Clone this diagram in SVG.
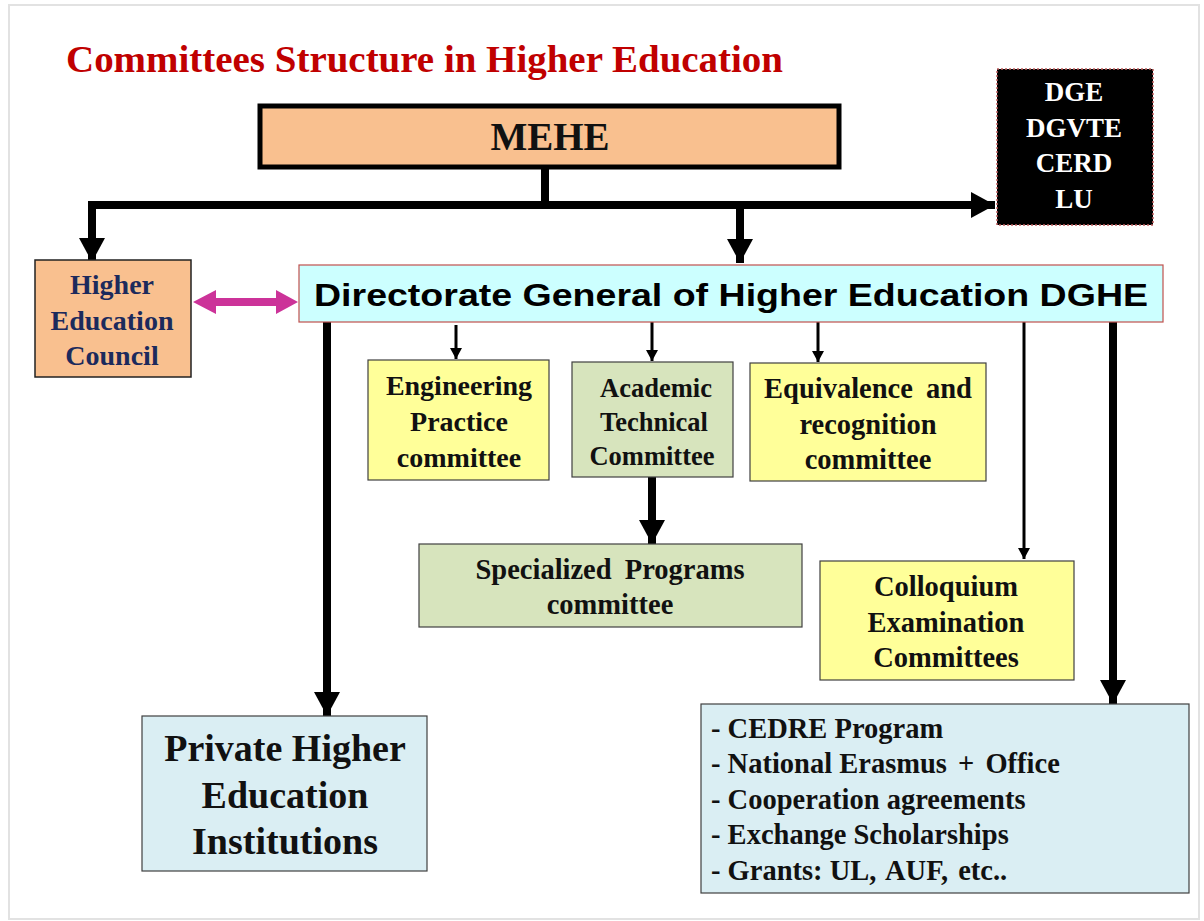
<svg xmlns="http://www.w3.org/2000/svg" width="1204" height="921" viewBox="0 0 1204 921">
<style>
.serif{font-family:"Liberation Serif","Times New Roman",serif;font-weight:bold;}
.sans{font-family:"Liberation Sans",Arial,sans-serif;font-weight:bold;}
.box{stroke:#404040;stroke-width:1.2;}
.yellow{fill:#FFFF99;}
.green{fill:#D7E4BD;}
.blue{fill:#DAEEF3;}
.peach{fill:#F9C08F;}
.thick{stroke:#000;stroke-width:8;fill:none;}
.thin{stroke:#000;stroke-width:3;fill:none;}
.t{text-anchor:middle;fill:#111;}
</style>
<defs>
<marker id="bigHead" markerUnits="userSpaceOnUse" markerWidth="24" markerHeight="26" viewBox="0 0 24 26" refX="24" refY="13" orient="auto">
<path d="M0,0 L24,13 L0,26 Z" fill="#000"/>
</marker>
<marker id="smallHead" markerUnits="userSpaceOnUse" markerWidth="11" markerHeight="12" viewBox="0 0 11 12" refX="11" refY="6" orient="auto">
<path d="M0,0 L11,6 L0,12 Z" fill="#000"/>
</marker>
</defs>
<rect x="0" y="0" width="1204" height="921" fill="#ffffff"/>
<rect x="9" y="5" width="1190" height="914" fill="#ffffff" stroke="#E2E2E2" stroke-width="2"/>

<text class="serif" x="66" y="72" font-size="37" fill="#C00000" textLength="717" lengthAdjust="spacingAndGlyphs">Committees Structure in Higher Education</text>

<g id="connectors">
<path class="thick" d="M545,168 V205"/>
<path class="thick" d="M88,205 H995" marker-end="url(#bigHead)"/>
<path class="thick" d="M92,201 V262" marker-end="url(#bigHead)"/>
<path class="thick" d="M740,205 V263" marker-end="url(#bigHead)"/>
<path d="M193,302 L216,290 L216,298 L276,298 L276,290 L298,302 L276,314 L276,306 L216,306 L216,314 Z" fill="#CC3399"/>
<path class="thick" d="M327,322 V716" marker-end="url(#bigHead)"/>
<path class="thin" d="M456,325 V359" marker-end="url(#smallHead)"/>
<path class="thin" d="M652,322 V361" marker-end="url(#smallHead)"/>
<path class="thin" d="M818,322 V362" marker-end="url(#smallHead)"/>
<path class="thin" d="M1024,322 V559" marker-end="url(#smallHead)"/>
<path class="thick" d="M1113,322 V704" marker-end="url(#bigHead)"/>
<path class="thick" d="M652,477 V544" marker-end="url(#bigHead)"/>
</g>

<g id="mehe">
<rect x="260" y="106" width="579" height="61" class="peach" stroke="#000" stroke-width="5"/>
<text class="serif t" x="550" y="150" font-size="39" fill="#000">MEHE</text>
</g>

<g id="dge">
<rect x="997" y="69" width="156" height="156" fill="#000" stroke="#C06060" stroke-width="1.5" stroke-dasharray="2,2"/>
<text class="serif" text-anchor="middle" x="1074" y="101" font-size="27" fill="#fff">DGE</text>
<text class="serif" text-anchor="middle" x="1074" y="137" font-size="27" fill="#fff">DGVTE</text>
<text class="serif" text-anchor="middle" x="1074" y="172" font-size="27" fill="#fff">CERD</text>
<text class="serif" text-anchor="middle" x="1074" y="208" font-size="27" fill="#fff">LU</text>
</g>

<g id="hec">
<rect x="35" y="260" width="156" height="117" class="peach" stroke="#222" stroke-width="1.5"/>
<text class="serif" text-anchor="middle" x="112" y="294" font-size="28" fill="#1C2A5C">Higher</text>
<text class="serif" text-anchor="middle" x="112" y="330" font-size="28" fill="#1C2A5C">Education</text>
<text class="serif" text-anchor="middle" x="112" y="365" font-size="28" fill="#1C2A5C">Council</text>
</g>

<g id="dghe">
<rect x="299" y="265" width="864" height="57" fill="#CCFFFF" stroke="#C0504D" stroke-width="1.2"/>
<text class="sans" x="314" y="306" font-size="32" fill="#000" textLength="834" lengthAdjust="spacingAndGlyphs">Directorate General of Higher Education DGHE</text>
</g>

<g id="engineering">
<rect x="368" y="360" width="181" height="120" class="yellow box"/>
<text class="serif t" x="459" y="395" font-size="28">Engineering</text>
<text class="serif t" x="459" y="431" font-size="28">Practice</text>
<text class="serif t" x="459" y="467" font-size="28">committee</text>
</g>

<g id="academic">
<rect x="572" y="362" width="161" height="115" class="green box"/>
<text class="serif t" x="656" y="397" font-size="26.5">Academic</text>
<text class="serif t" x="654" y="431" font-size="26.5">Technical</text>
<text class="serif t" x="652" y="465" font-size="26.5">Committee</text>
</g>

<g id="equivalence">
<rect x="750" y="363" width="236" height="118" class="yellow box"/>
<text class="serif t" x="868" y="398" font-size="28.5" word-spacing="6">Equivalence and</text>
<text class="serif t" x="868" y="434" font-size="28.5">recognition</text>
<text class="serif t" x="868" y="469" font-size="28.5">committee</text>
</g>

<g id="specialized">
<rect x="419" y="544" width="383" height="83" class="green box"/>
<text class="serif t" x="610" y="579" font-size="28.5" word-spacing="6">Specialized Programs</text>
<text class="serif t" x="610" y="614" font-size="28.5">committee</text>
</g>

<g id="colloquium">
<rect x="820" y="561" width="254" height="119" class="yellow box"/>
<text class="serif t" x="946" y="596" font-size="28.5">Colloquium</text>
<text class="serif t" x="946" y="632" font-size="28.5">Examination</text>
<text class="serif t" x="946" y="667" font-size="28.5">Committees</text>
</g>

<g id="private">
<rect x="142" y="716" width="285" height="155" class="blue box"/>
<text class="serif t" x="285" y="761" font-size="38">Private Higher</text>
<text class="serif t" x="285" y="808" font-size="38">Education</text>
<text class="serif t" x="285" y="854" font-size="38">Institutions</text>
</g>

<g id="cooperation">
<rect x="701" y="704" width="488" height="189" class="blue box"/>
<text class="serif" x="711" y="738" font-size="28.5" fill="#111">- CEDRE Program</text>
<text class="serif" x="711" y="773" font-size="28.5" fill="#111">- National <tspan word-spacing="4">Erasmus + Office</tspan></text>
<text class="serif" x="711" y="809" font-size="28.5" fill="#111">- Cooperation  agreements</text>
<text class="serif" x="711" y="844" font-size="28.5" fill="#111">- Exchange <tspan>Scholarships</tspan></text>
<text class="serif" x="711" y="880" font-size="28.5" fill="#111">- Grants: <tspan word-spacing="3">UL, AUF, etc..</tspan></text>
</g>
</svg>
